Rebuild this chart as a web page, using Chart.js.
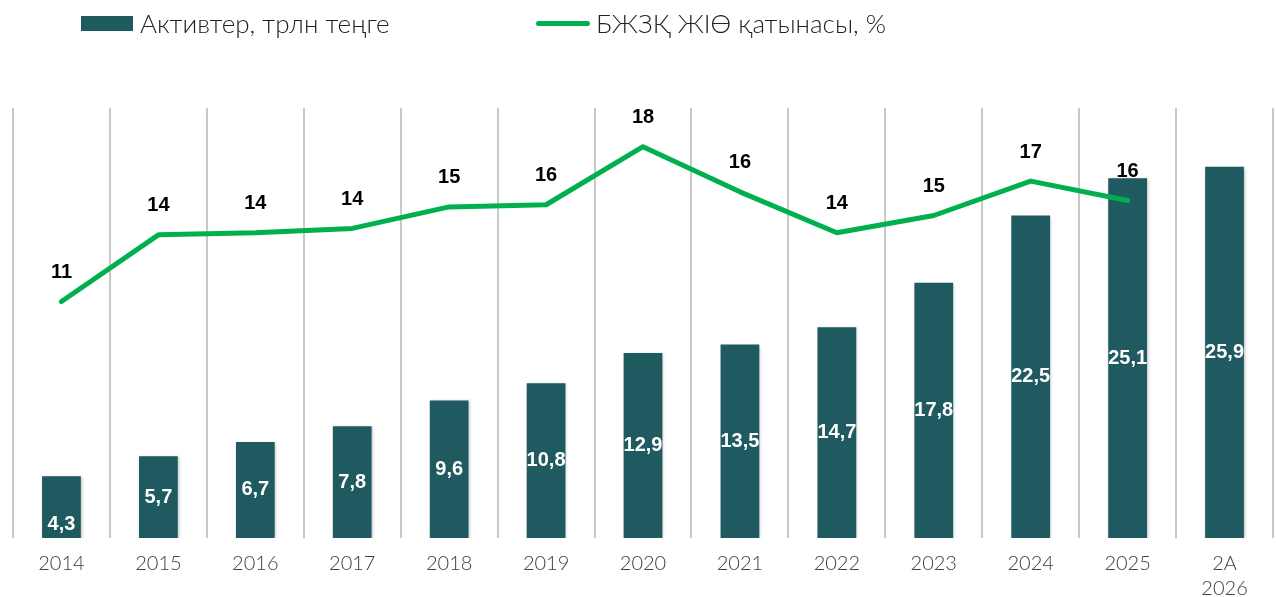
<!DOCTYPE html>
<html>
<head>
<meta charset="utf-8">
<script src="https://cdn.jsdelivr.net/npm/chart.js@4"></script>
<style>
  html, body { margin: 0; padding: 0; background: #fff; overflow: hidden; }
  #wrap { position: relative; width: 1276px; height: 597px; overflow: hidden; }
  #legend { position: absolute; top: 0; left: 0; width: 1276px; height: 50px;
            font-family: Lato, "Open Sans", sans-serif; font-weight: 300; font-size: 26px; color: #222; }
  .item { position: absolute; top: 7px; display: flex; align-items: center; }
  .box { width: 52px; height: 15px; background: #1f5a60; margin-right: 7px; }
  .ln { width: 54px; height: 5px; border-radius: 3px; background: #00b04f; margin-right: 6px; }
</style>
</head>
<body>
<div id="wrap">
  <div id="legend">
    <div class="item" style="left:81px"><span class="box"></span><span>Активтер, трлн теңге</span></div>
    <div class="item" style="left:536px"><span class="ln"></span><span>БЖЗҚ ЖІӨ қатынасы, %</span></div>
  </div>
  <canvas id="chart" width="1276" height="614"></canvas>
</div>
<script>
// Data
const years = ['2014', '2015', '2016', '2017', '2018', '2019', '2020', '2021', '2022', '2023', '2024', '2025', ['2А', '2026']];
const assets = [4.3, 5.7, 6.7, 7.8, 9.6, 10.8, 12.9, 13.5, 14.7, 17.8, 22.5, 25.1, 25.9];
const gdpShare = [11.0, 14.1, 14.2, 14.4, 15.4, 15.5, 18.2, 16.1, 14.2, 15.0, 16.6, 15.7, null];

const fmt = v => v.toFixed(1).replace('.', ',');

// soft shadow under the bars
const barShadow = {
    id: 'barShadow',
    beforeDatasetDraw(chart, args) {
        if (args.index !== 1) return;
        const ctx = chart.ctx;
        ctx.save();
        ctx.shadowColor = 'rgba(0,0,0,0.25)';
        ctx.shadowBlur = 3;
        ctx.shadowOffsetX = 1;
        ctx.shadowOffsetY = 1;
    },
    afterDatasetDraw(chart, args) {
        if (args.index !== 1) return;
        chart.ctx.restore();
    }
};

// labels plugin
const valueLabels = {
    id: 'valueLabels',
    afterDatasetsDraw(chart) {
        const ctx = chart.ctx;
        ctx.save();
        ctx.textAlign = 'center';
        ctx.textBaseline = 'middle';

        // bars - white, in middle
        ctx.font = 'bold 20px "Liberation Sans", Arial, sans-serif';
        ctx.fillStyle = '#ffffff';
        chart.getDatasetMeta(1).data.forEach((bar, i) => {
            const mid = (bar.y + bar.base) / 2;
            // first bar is short, label sits near its bottom
            ctx.fillText(fmt(assets[i]), bar.x, i === 0 ? bar.base - 14 : mid);
        });

        // line - black, above point
        ctx.font = 'bold 20px "Liberation Sans", Arial, sans-serif';
        ctx.fillStyle = '#000000';
        chart.getDatasetMeta(0).data.forEach((pt, i) => {
            if (gdpShare[i] == null) return;
            ctx.fillText(Math.round(gdpShare[i]), pt.x, pt.y - 29);
        });
        ctx.restore();
    }
};

new Chart(document.getElementById('chart'), {
    type: 'bar',
    data: {
        labels: years,
        datasets: [{
            type: 'line',
            label: 'БЖЗҚ ЖІӨ қатынасы, %',
            data: gdpShare,
            yAxisID: 'y2',
            borderColor: '#00b04f',
            borderWidth: 5,
            borderCapStyle: 'round',
            borderJoinStyle: 'round',
            pointRadius: 0,
            tension: 0,
            order: 0
        }, {
            label: 'Активтер, трлн теңге',
            data: assets,
            yAxisID: 'y',
            backgroundColor: '#1f5a60',
            categoryPercentage: 1,
            barPercentage: 0.4,
            order: 1
        }]
    },
    options: {
        responsive: false,
        animation: false,
        layout: { padding: { top: 108, left: 13, right: 3, bottom: 0 } },
        plugins: { legend: { display: false }, tooltip: { enabled: false } },
        scales: {
            x: {
                grid: { color: '#c8c8c8', lineWidth: 2, drawTicks: false, offset: true },
                border: { display: false },
                ticks: {
                    color: '#404040',
                    padding: 13,
                    font: { family: 'Lato, "Open Sans", sans-serif', weight: 300, size: 20, lineHeight: 1.25 }
                }
            },
            y: { display: false, min: 0, max: 30 },
            y2: { display: false, min: 0, max: 20, position: 'right' }
        }
    },
    plugins: [barShadow, valueLabels]
});
</script>
</body>
</html>
